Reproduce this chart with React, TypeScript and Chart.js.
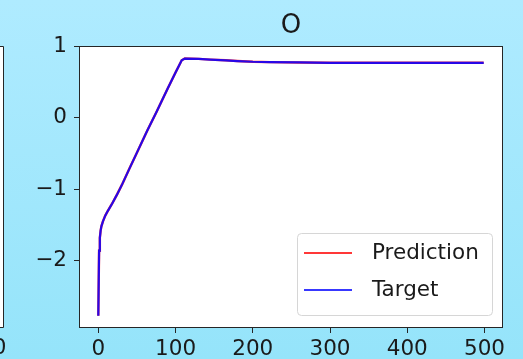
import React, { useEffect, useRef } from "react";
import { Chart, registerables } from "chart.js";

Chart.register(...registerables);

const xValues = [0, 1, 2, 3, 4, 6, 9, 12, 18, 24, 31, 40, 50, 63, 75, 90, 100, 108, 112, 130, 145, 165, 180, 200, 222, 260, 300, 350, 400, 450, 499];
const targetValues = [-2.77, -1.86, -1.68, -1.58, -1.52, -1.45, -1.37, -1.31, -1.2, -1.08, -0.93, -0.72, -0.49, -0.19, 0.07, 0.41, 0.63, 0.80, 0.825, 0.82, 0.81, 0.80, 0.79, 0.78, 0.775, 0.77, 0.765, 0.765, 0.765, 0.765, 0.765];
const predictionValues = [-2.77, -1.86, -1.68, -1.58, -1.52, -1.45, -1.37, -1.31, -1.2, -1.08, -0.93, -0.72, -0.49, -0.19, 0.07, 0.41, 0.63, 0.80, 0.825, 0.82, 0.81, 0.80, 0.79, 0.78, 0.775, 0.77, 0.765, 0.765, 0.765, 0.765, 0.765];
const xTicks = [0, 100, 200, 300, 400, 500];
const yTicks = [-2, -1, 0, 1];
const title = "O";
const legendLabels = ["Prediction", "Target"];

const RED = "rgba(255,0,0,0.78)";
const BLUE = "rgba(0,0,255,0.78)";
const BLUE_LINE = "rgba(10,0,255,0.88)";
const FONT = "'DejaVu Sans', sans-serif";

export default function App() {
  const ref = useRef<HTMLCanvasElement>(null);
  useEffect(() => {
    const canvas = ref.current!;
    const deco = {
      id: "deco",
      beforeDraw(chart: any) {
        const ctx = chart.ctx;
        const { width, height, chartArea: a } = chart;
        ctx.save();
        const g = ctx.createLinearGradient(0, 0, 0, height);
        g.addColorStop(0, "#afebff");
        g.addColorStop(1, "#95e4fa");
        ctx.fillStyle = g;
        ctx.fillRect(0, 0, width, height);
        ctx.fillStyle = "#ffffff";
        ctx.fillRect(a.left, a.top, a.right - a.left, a.bottom - a.top);
        ctx.fillRect(0, a.top, 3, a.bottom - a.top);
        ctx.restore();
      },
      afterDraw(chart: any) {
        const ctx = chart.ctx;
        const a = chart.chartArea;
        ctx.save();
        ctx.strokeStyle = "#262626";
        ctx.lineWidth = 1;
        ctx.strokeRect(Math.round(a.left) + 0.5, Math.round(a.top) + 0.5, Math.round(a.right - a.left) - 1, Math.round(a.bottom - a.top) - 1);
        ctx.beginPath();
        ctx.moveTo(-1, Math.round(a.top) + 0.5);
        ctx.lineTo(3.5, Math.round(a.top) + 0.5);
        ctx.lineTo(3.5, Math.round(a.bottom) - 0.5);
        ctx.lineTo(-1, Math.round(a.bottom) - 0.5);
        ctx.stroke();
        ctx.fillStyle = "#1a1a1a";
        ctx.font = `21.5px ${FONT}`;
        ctx.textAlign = "center";
        ctx.textBaseline = "top";
        ctx.fillText("500", -14, 338);
        ctx.font = `26px ${FONT}`;
        ctx.textAlign = "center";
        ctx.textBaseline = "middle";
        ctx.fillText(title, (a.left + a.right) / 2, 26);
        const bx = 297.5, by = 233.5, bw = 195, bh = 82, r = 4;
        ctx.beginPath();
        ctx.moveTo(bx + r, by);
        ctx.arcTo(bx + bw, by, bx + bw, by + bh, r);
        ctx.arcTo(bx + bw, by + bh, bx, by + bh, r);
        ctx.arcTo(bx, by + bh, bx, by, r);
        ctx.arcTo(bx, by, bx + bw, by, r);
        ctx.closePath();
        ctx.fillStyle = "rgba(255,255,255,0.85)";
        ctx.fill();
        ctx.strokeStyle = "#d6d6d6";
        ctx.stroke();
        const rows = [
          { y: 253, c: RED, t: legendLabels[0] },
          { y: 290, c: BLUE, t: legendLabels[1] },
        ];
        ctx.font = `21.5px ${FONT}`;
        ctx.textAlign = "left";
        ctx.textBaseline = "middle";
        for (const row of rows) {
          ctx.strokeStyle = row.c;
          ctx.lineWidth = 2.2;
          ctx.beginPath();
          ctx.moveTo(304, row.y);
          ctx.lineTo(352, row.y);
          ctx.stroke();
          ctx.fillStyle = "#1a1a1a";
          ctx.fillText(row.t, 372, row.y);
        }
        ctx.restore();
      },
    };
    const pts = (ys: number[]) => xValues.map((x, i) => ({ x, y: ys[i] }));
    const chart = new Chart(canvas, {
      type: "line",
      data: {
        datasets: [
          { label: legendLabels[1], data: pts(targetValues), borderColor: BLUE_LINE, borderWidth: 2.2, pointRadius: 0, tension: 0, order: 0 },
          { label: legendLabels[0], data: pts(predictionValues), borderColor: RED, borderWidth: 2.4, pointRadius: 0, tension: 0, order: 1 },
        ],
      },
      options: {
        animation: false,
        responsive: false,
        layout: { padding: { left: 0, top: 46, right: 20, bottom: 0 } },
        plugins: { legend: { display: false }, tooltip: { enabled: false }, title: { display: false } },
        scales: {
          x: {
            type: "linear",
            min: -25,
            max: 524,
            afterBuildTicks: (s: any) => { s.ticks = xTicks.map((v) => ({ value: v })); },
            afterFit: (s: any) => { s.height = 31; },
            grid: { drawOnChartArea: false, drawTicks: true, tickLength: 5, color: "#262626", tickWidth: 1 },
            border: { display: false },
            ticks: { color: "#1a1a1a", font: { family: FONT, size: 21.5 }, padding: 4, maxRotation: 0, autoSkip: false },
          },
          y: {
            type: "linear",
            min: -2.94,
            max: 1.0,
            afterBuildTicks: (s: any) => { s.ticks = yTicks.map((v) => ({ value: v })); },
            afterFit: (s: any) => { s.width = 79; },
            grid: { drawOnChartArea: false, drawTicks: true, tickLength: 5, color: "#262626", tickWidth: 1 },
            border: { display: false },
            ticks: {
              color: "#1a1a1a",
              font: { family: FONT, size: 21.5 },
              padding: 7,
              callback: (v: any) => (Number(v) < 0 ? "\u2212" + Math.abs(Number(v)) : String(v)),
            },
          },
        },
      },
      plugins: [deco],
    });
    return () => chart.destroy();
  }, []);
  return (
    <div style={{ position: "fixed", left: 0, top: 0, width: 523, height: 359 }}>
      <canvas ref={ref} width={523} height={359} />
    </div>
  );
}
